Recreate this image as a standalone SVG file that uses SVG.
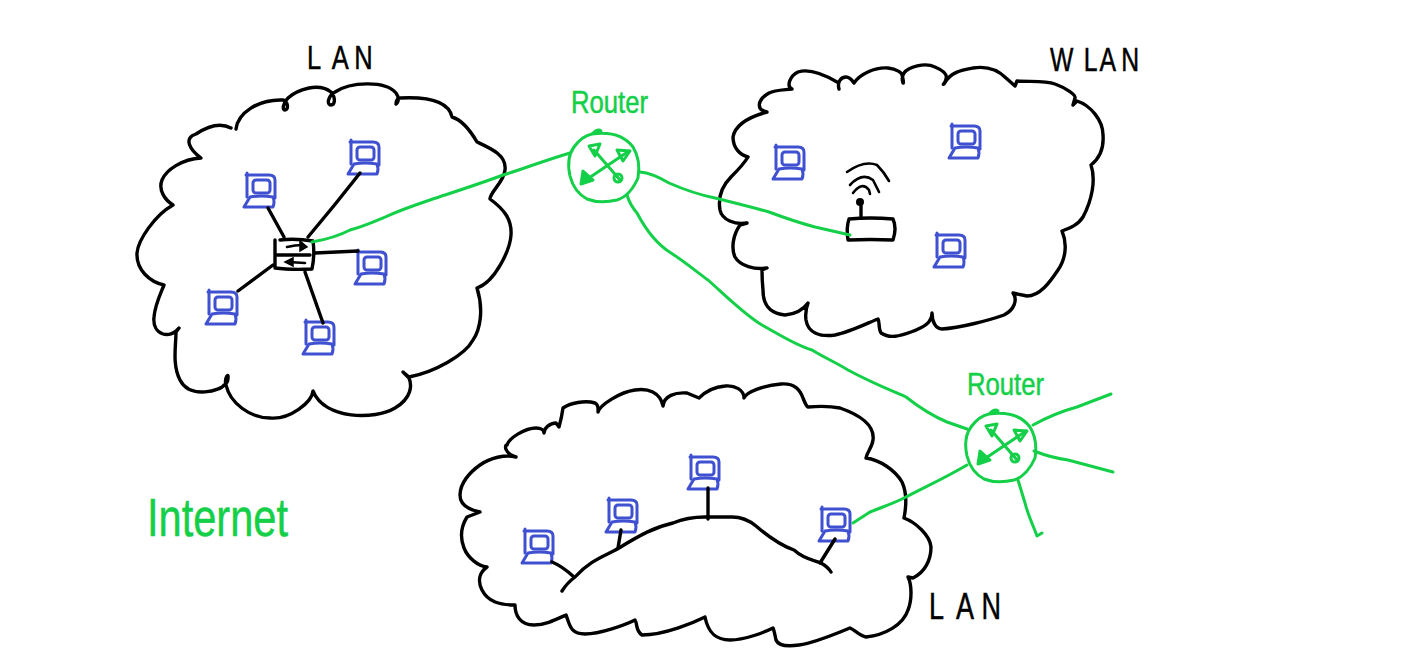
<svg xmlns="http://www.w3.org/2000/svg" width="1416" height="672" viewBox="0 0 1416 672">
<style>
.ink{fill:none;stroke:#000;stroke-width:3.4;stroke-linecap:round;stroke-linejoin:round}
.thin{fill:none;stroke:#000;stroke-width:2.6;stroke-linecap:round;stroke-linejoin:round}
.net{fill:none;stroke:#14cf48;stroke-width:3;stroke-linecap:round;stroke-linejoin:round}
.pc{fill:none;stroke:#3f50d0;stroke-width:3;stroke-linecap:round;stroke-linejoin:round}
text{font-family:"Liberation Sans",Arial,sans-serif;stroke-width:.5}
.k{fill:#000;stroke:#000}
.g{fill:#14cf48;stroke:#14cf48}
</style>
<defs>
<g id="pc" class="pc">
<path d="M1 0V24M0 2H23Q29 2 29 7V25"/>
<rect x="7" y="7" width="17" height="13" rx="3"/>
<path d="M4 24L-2 34H27Q29 29 27 24Q15 22 4 24Z"/>
</g>
<g id="router-shape" class="net">
<path d="M592 134Q598 128 601 131Q598 134 592 134Q620 130 633 147Q641 160 638 178Q630 196 617 200Q600 204 587 199Q574 192 570 176Q566 158 574 147Q582 136 592 134Z"/>
<path d="M583 182L629 151M594 150L620 180"/>
<path d="M617 150L630 151L623 161ZM589 146L600 144L595 156Z"/>
<path d="M583 171L581 184L593 180Z" fill="#14cf48"/>
<circle cx="618" cy="178" r="4"/>
</g>
</defs>

<g id="lan-left">
<path class="ink" d="M236 129C238 113 258 99 283 100C288 101 289 110 285 110C282 110 283 103 288 98C297 90 318 82 331 92C336 98 335 105 331 105C327 105 327 97 335 92C350 82 385 80 396 93C399 97 399 102 396 104C396 100 398 98 400 98C420 97 448 98 452 117C462 120 470 130 477 142C490 148 507 155 505 170C504 182 490 192 490 199C505 210 512 220 511 235C510 250 495 282 477 288C484 310 480 330 473 340C465 355 435 372 409 377L403 372L409 378C412 385 412 398 395 408C375 420 325 420 313 391C312 402 290 420 270 418C250 418 230 403 226 385C224 378 229 372 228 378C228 382 226 384 224 385C222 390 190 400 180 380C172 365 176 345 176 332L179 328C170 340 152 335 154 317C155 305 160 295 164 285C150 282 136 270 137 253C138 240 155 215 173 205C165 200 158 190 162 180C166 170 182 159 201 158C190 150 183 138 196 134C205 128 218 121 231 128"/>
<text class="k" transform="translate(307,69) scale(.75,1)" x="0 33 63" y="0" font-size="34">LAN</text>
</g>
<g id="lan-left-pcs">
<use href="#pc" x="350" y="140"/>
<use href="#pc" x="246" y="173"/>
<use href="#pc" x="357" y="250"/>
<use href="#pc" x="208" y="290"/>
<use href="#pc" x="305" y="320"/>
</g>
<g id="switch">
<path class="ink" d="M275 240V268Q290 270 312 269Q315 255 313 241Q295 238 280 240"/>
<path class="ink" d="M277 255H310"/>
<path class="thin" d="M287 247Q295 245 303 245"/>
<path class="thin" d="M305 263L288 262"/>
<path d="M300 241L307 247L300 251Z" stroke="#000" stroke-width="1.5"/>
<path d="M293 258L285 262L293 266Z" stroke="#000" stroke-width="1.5"/>
</g>

<g id="wlan">
<path class="ink" d="M839 89C837 82 841 77 846 77C850 77 852 80 854 83C860 74 875 67 888 68C897 69 902 73 902 75C903 78 904 84 903 83C902 80 902 76 904 73C908 67 925 62 935 67C942 70 948 74 946 79C945 84 942 85 944 84C950 72 962 70 973 68C985 66 996 68 1006 78L1015 86L1017 81C1030 82 1045 80 1055 84C1066 88 1076 95 1075 98L1073 105L1077 101C1090 105 1103 120 1103 135C1104 148 1100 158 1091 165C1096 180 1092 200 1083 217C1078 225 1070 228 1062 231C1068 245 1065 260 1058 270C1050 282 1040 296 1027 296L1013 293C1018 300 1014 310 1004 315C990 320 960 328 942 329C936 329 932 322 932 313C932 322 925 327 911 332C900 336 890 339 881 333C878 328 880 322 878 319C870 322 850 332 835 335C820 337 808 333 806 320C805 312 806 308 808 303C803 310 796 314 785 315C775 314 763 310 763 290C762 280 762 275 762 270L767 268C755 270 740 266 735 257C731 248 733 235 740 225L747 223C735 225 722 220 720 210C718 198 722 186 731 177C738 170 745 162 748 157C740 155 733 148 733 137C735 126 745 118 767 112C756 110 757 100 769 93C775 90 785 90 792 89C786 86 790 76 798 72C810 68 825 75 837 82"/>
<text class="k" transform="translate(1050,71) scale(.75,1)" x="0 45 66 95" y="0" font-size="33">WLAN</text>
</g>
<g id="wlan-pcs">
<use href="#pc" x="775" y="145"/>
<use href="#pc" x="951" y="124"/>
<use href="#pc" x="936" y="233"/>
</g>
<g id="access-point">
<path class="ink" d="M849 219Q870 217 893 219Q897 228 893 240Q870 239 848 240Q846 228 849 219Z"/>
<path class="ink" d="M861 218V203"/>
<circle cx="860" cy="202" r="4"/>
<path class="thin" d="M853 193Q862 181 869 190L870 194"/>
<path class="thin" d="M850 185Q862 172 873 180L879 192"/>
<path class="thin" d="M847 172Q864 160 877 165Q884 172 889 181"/>
</g>

<g id="lan-bottom">
<path class="ink" d="M516 457C505 454 504 445 507 445C509 438 525 428 536 428C541 428 544 430 544 433C544 428 550 423 556 423L559 427C561 420 562 415 563 408C570 403 585 400 595 403C599 405 598 410 598 412C600 405 620 392 635 390C648 388 660 392 663 406C664 396 675 392 687 393L699 398C705 392 712 387 725 386C735 385 744 390 744 398C746 392 765 385 781 384C795 383 800 390 803 398C805 403 806 406 808 407C820 406 830 406 840 408C860 415 875 425 873 440C872 448 867 452 866 458C880 460 895 470 902 482C908 495 906 508 904 518C915 522 930 535 931 547C931 560 925 572 913 578L908 577C912 585 912 600 908 610C903 625 885 635 866 637C860 636 855 630 850 628C845 630 815 643 799 645C785 647 778 645 776 640C775 635 774 630 773 628C765 632 745 640 730 640C715 640 708 632 705 617C695 622 665 635 642 635C635 630 638 625 635 620C625 625 600 634 585 634C570 634 570 625 566 615C555 620 545 625 534 625C520 625 515 615 515 605C500 605 488 602 482 590C477 580 480 572 487 567C478 566 468 558 464 548C459 535 462 525 467 517L480 512C470 510 460 505 460 495C460 483 470 472 480 465C490 458 505 454 516 457"/>
<text class="k" transform="translate(929,619) scale(.75,1)" x="0 36 70" y="0" font-size="36">LAN</text>
</g>
<g id="lan-bottom-pcs">
<use href="#pc" x="524" y="529"/>
<use href="#pc" x="608" y="498"/>
<use href="#pc" x="690" y="455"/>
<use href="#pc" x="821" y="507"/>
</g>

<g id="router-1">
<use href="#router-shape"/>
<text class="g" x="571" y="113" font-size="32" textLength="77" lengthAdjust="spacingAndGlyphs">Router</text>
</g>
<g id="router-2">
<use href="#router-shape" x="397" y="280"/>
<text class="g" x="967" y="395" font-size="32" textLength="77" lengthAdjust="spacingAndGlyphs">Router</text>
</g>
<g id="internet-label">
<text class="g" x="147" y="536" font-size="54" textLength="141" lengthAdjust="spacingAndGlyphs">Internet</text>
</g>

<g id="connectors">
<path class="ink" d="M360 173Q335 205 308 237"/>
<path class="ink" d="M268 208L284 237"/>
<path class="ink" d="M315 253Q335 252 358 251"/>
<path class="ink" d="M273 265L238 291"/>
<path class="ink" d="M305 272Q315 300 323 323"/>
<path class="ink" d="M562 591Q567 583 575 577C590 560 605 556 619 548C640 535 655 527 673 523C685 518 695 517 705 517H732Q745 517 756 526C770 538 780 545 794 550C805 560 815 560 821 563Q828 567 831 572"/>
<path class="ink" d="M552 562Q562 566 574 577"/>
<path class="ink" d="M621 530L618 548"/>
<path class="ink" d="M708 488V519"/>
<path class="ink" d="M835 539L820 563"/>
<path class="net" d="M312 242Q335 238 350 230C365 226 375 221 383 218C400 210 415 205 430 200C460 190 485 182 503 175C520 170 540 162 570 153"/>
<path class="net" d="M640 172Q652 173 669 183C685 190 700 195 715 198C735 203 752 207 769 212C785 218 800 223 815 227L850 235"/>
<path class="net" d="M627 195Q630 205 637 213C647 232 658 245 671 253C685 262 697 272 708 280C725 295 745 315 762 325C780 335 795 345 812 350C825 358 835 362 848 370C870 382 890 390 906 397C920 408 935 417 947 422L967 429"/>
<path class="net" d="M967 465C945 478 925 487 906 497C895 503 882 507 870 512L853 523"/>
<path class="net" d="M1033 425Q1055 413 1077 407L1111 394"/>
<path class="net" d="M1034 451Q1052 458 1068 460L1113 472"/>
<path class="net" d="M1018 480Q1021 490 1025 503C1028 515 1033 525 1037 536L1042 533"/>
</g>
</svg>
